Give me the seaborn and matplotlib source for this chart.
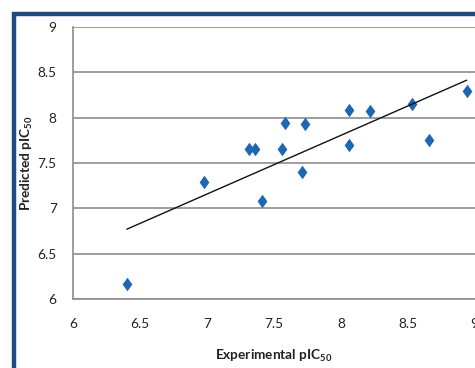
import numpy as np
import pandas as pd
import matplotlib
matplotlib.use("Agg")
import matplotlib.pyplot as plt
import seaborn as sns
from matplotlib.patches import Rectangle

# experimental vs predicted pIC50
experimental = [6.40, 6.98, 7.31, 7.36, 7.41, 7.56, 7.58, 7.71, 7.73,
                8.06, 8.06, 8.22, 8.53, 8.66, 8.94]
predicted = [6.16, 7.29, 7.66, 7.66, 7.08, 7.66, 7.94, 7.40, 7.93,
             8.08, 7.70, 8.07, 8.15, 7.75, 8.29]
x_ticks = [6, 6.5, 7, 7.5, 8, 8.5, 9]
y_ticks = [6, 6.5, 7, 7.5, 8, 8.5, 9]

df = pd.DataFrame({"Experimental": experimental, "Predicted": predicted})

sns.set_theme(style="white")
plt.rcParams["font.family"] = ["Lato", "DejaVu Sans"]
plt.rcParams["mathtext.fontset"] = "custom"
plt.rcParams["mathtext.rm"] = "Lato"
plt.rcParams["mathtext.bf"] = "Lato:bold"

fig = plt.figure(figsize=(4.75, 3.68), dpi=100)
ax = fig.add_axes([0.1543, 0.1875, 0.845, 0.739])

diamond = [(0, 1), (0.72, 0), (0, -1), (-0.72, 0), (0, 1)]
sns.regplot(data=df, x="Experimental", y="Predicted", ax=ax, ci=None,
            truncate=True, marker=diamond,
            scatter_kws={"s": 95, "color": "#1c66b2", "alpha": 1.0,
                         "linewidths": 0, "zorder": 3},
            line_kws={"color": "#111111", "linewidth": 1.0, "zorder": 4})

ax.set_xlim(6, 9)
ax.set_ylim(6, 9)
ax.set_xticks(x_ticks)
ax.set_yticks(y_ticks)
ax.set_xticklabels([f"{t:g}" for t in x_ticks])
ax.set_yticklabels([f"{t:g}" for t in y_ticks])
ax.yaxis.grid(True, color="#8c8c8c", linewidth=1.2)
ax.xaxis.grid(False)
ax.set_axisbelow(True)

for side in ["top", "right"]:
    ax.spines[side].set_visible(False)
for side in ["left", "bottom"]:
    ax.spines[side].set_color("#8c8c8c")
    ax.spines[side].set_linewidth(1.2)

ax.tick_params(axis="both", which="major", direction="out", length=4,
               width=1.2, color="#8c8c8c", labelsize=9.8, labelcolor="#222222")
ax.tick_params(axis="y", pad=8)
ax.tick_params(axis="x", pad=10)

ax.set_xlabel(r"Experimental pIC$_\mathbf{50}$", fontsize=9.8, fontweight="bold",
              labelpad=12, color="#222222")
ax.set_ylabel(r"Predicted pIC$_\mathbf{50}$", fontsize=9.8, fontweight="bold",
              color="#222222")
ax.yaxis.set_label_coords(-0.095, 0.5)

# dark blue frame around the chart (cropped at right and bottom)
fig.patches.append(Rectangle((13.5 / 475, -0.1), 1.2, (368 - 13.5) / 368 + 0.1,
                             transform=fig.transFigure, fill=False,
                             edgecolor="#1f4a7e", linewidth=3.2, zorder=10))

fig.savefig("out.png", dpi=100)
